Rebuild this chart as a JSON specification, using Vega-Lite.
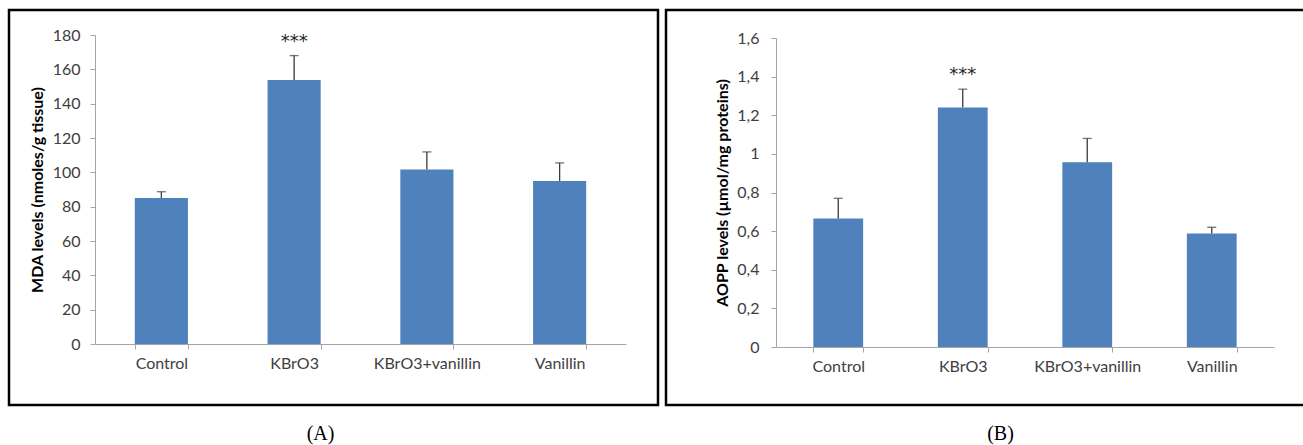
{
  "$schema": "https://vega.github.io/schema/vega-lite/v6.json",
  "autosize": {"type": "pad"},
  "padding": {"left": 7, "top": 8, "right": 0, "bottom": 0},
  "background": "white",
  "config": {
    "view": {"stroke": "#000000", "strokeWidth": 2.5},
    "font": "Lato"
  },
  "datasets": {
    "mda": [
      {"group": "Control", "mean": 85, "upper": 88.7, "sig": ""},
      {"group": "KBrO3", "mean": 153.8, "upper": 168, "sig": "***"},
      {"group": "KBrO3+vanillin", "mean": 101.6, "upper": 111.9, "sig": ""},
      {"group": "Vanillin", "mean": 95, "upper": 105.5, "sig": ""}
    ],
    "aopp": [
      {"group": "Control", "mean": 0.665, "upper": 0.77, "sig": ""},
      {"group": "KBrO3", "mean": 1.24, "upper": 1.335, "sig": "***"},
      {"group": "KBrO3+vanillin", "mean": 0.957, "upper": 1.08, "sig": ""},
      {"group": "Vanillin", "mean": 0.588, "upper": 0.62, "sig": ""}
    ]
  },
  "hconcat": [
    {
      "width": 649,
      "height": 395,
      "data": {"name": "mda"},
      "title": {"text": "(A)", "orient": "bottom", "font": "Liberation Serif", "fontSize": 20, "fontWeight": "normal", "color": "#000000", "offset": 19, "dx": -13},
      "encoding": {
        "x": {
          "field": "group", "type": "nominal", "sort": null,
          "scale": {"range": [86, 617], "paddingInner": 0.6, "paddingOuter": 0.3},
          "axis": {
            "title": null, "labelAngle": 0, "offset": -61, "tickBand": "extent",
            "domainColor": "#a6a6a6", "tickColor": "#a6a6a6", "tickSize": 5,
            "labelFont": "Lato", "labelFontSize": 16, "labelColor": "#404040", "labelPadding": 6, "grid": false
          }
        },
        "y": {
          "field": "mean", "type": "quantitative",
          "scale": {"domain": [0, 180], "range": [334, 25], "nice": false, "zero": true},
          "axis": {
            "values": [0, 20, 40, 60, 80, 100, 120, 140, 160, 180],
            "offset": -86, "grid": false,
            "domainColor": "#a6a6a6", "tickColor": "#a6a6a6", "tickSize": 5,
            "labelFont": "Lato", "labelFontSize": 16, "labelColor": "#404040", "labelPadding": 10,
            "title": "MDA levels (nmoles/g tissue)", "titleFont": "Lato", "titleFontSize": 16, "titleFontWeight": "bold", "titleColor": "#000000", "titlePadding": 7
          }
        }
      },
      "layer": [
        {"mark": {"type": "bar", "color": "#4F81BD"}},
        {"mark": {"type": "rule", "color": "#3a3a3a", "strokeWidth": 1.3}, "encoding": {"y2": {"field": "upper"}}},
        {"mark": {"type": "tick", "color": "#3a3a3a", "size": 9, "thickness": 1.3}, "encoding": {"y": {"field": "upper", "type": "quantitative"}}},
        {"mark": {"type": "text", "font": "DejaVu Sans", "fontSize": 18, "color": "#262626", "baseline": "middle", "dy": -14}, "encoding": {"y": {"field": "upper", "type": "quantitative"}, "text": {"field": "sig"}}}
      ]
    },
    {
      "width": 639,
      "height": 395,
      "data": {"name": "aopp"},
      "title": {"text": "(B)", "orient": "bottom", "font": "Liberation Serif", "fontSize": 20, "fontWeight": "normal", "color": "#000000", "offset": 19, "dx": 15},
      "encoding": {
        "x": {
          "field": "group", "type": "nominal", "sort": null,
          "scale": {"range": [110, 608], "paddingInner": 0.6, "paddingOuter": 0.3},
          "axis": {
            "title": null, "labelAngle": 0, "offset": -58, "tickBand": "extent",
            "domainColor": "#a6a6a6", "tickColor": "#a6a6a6", "tickSize": 5,
            "labelFont": "Lato", "labelFontSize": 16, "labelColor": "#404040", "labelPadding": 6, "grid": false
          }
        },
        "y": {
          "field": "mean", "type": "quantitative",
          "scale": {"domain": [0, 1.6], "range": [337, 28], "nice": false, "zero": true},
          "axis": {
            "values": [0, 0.2, 0.4, 0.6, 0.8, 1, 1.2, 1.4, 1.6],
            "labelExpr": "replace(format(datum.value, '.1~f'), '.', ',')",
            "offset": -110, "grid": false,
            "domainColor": "#a6a6a6", "tickColor": "#a6a6a6", "tickSize": 5,
            "labelFont": "Lato", "labelFontSize": 16, "labelColor": "#404040", "labelPadding": 12,
            "title": "AOPP levels (µmol/mg proteins)", "titleFont": "Lato", "titleFontSize": 16, "titleFontWeight": "bold", "titleColor": "#000000", "titlePadding": 6
          }
        }
      },
      "layer": [
        {"mark": {"type": "bar", "color": "#4F81BD"}},
        {"mark": {"type": "rule", "color": "#3a3a3a", "strokeWidth": 1.3}, "encoding": {"y2": {"field": "upper"}}},
        {"mark": {"type": "tick", "color": "#3a3a3a", "size": 9, "thickness": 1.3}, "encoding": {"y": {"field": "upper", "type": "quantitative"}}},
        {"mark": {"type": "text", "font": "DejaVu Sans", "fontSize": 18, "color": "#262626", "baseline": "middle", "dy": -14}, "encoding": {"y": {"field": "upper", "type": "quantitative"}, "text": {"field": "sig"}}}
      ]
    }
  ],
  "spacing": 8,
  "bounds": "flush"
}
